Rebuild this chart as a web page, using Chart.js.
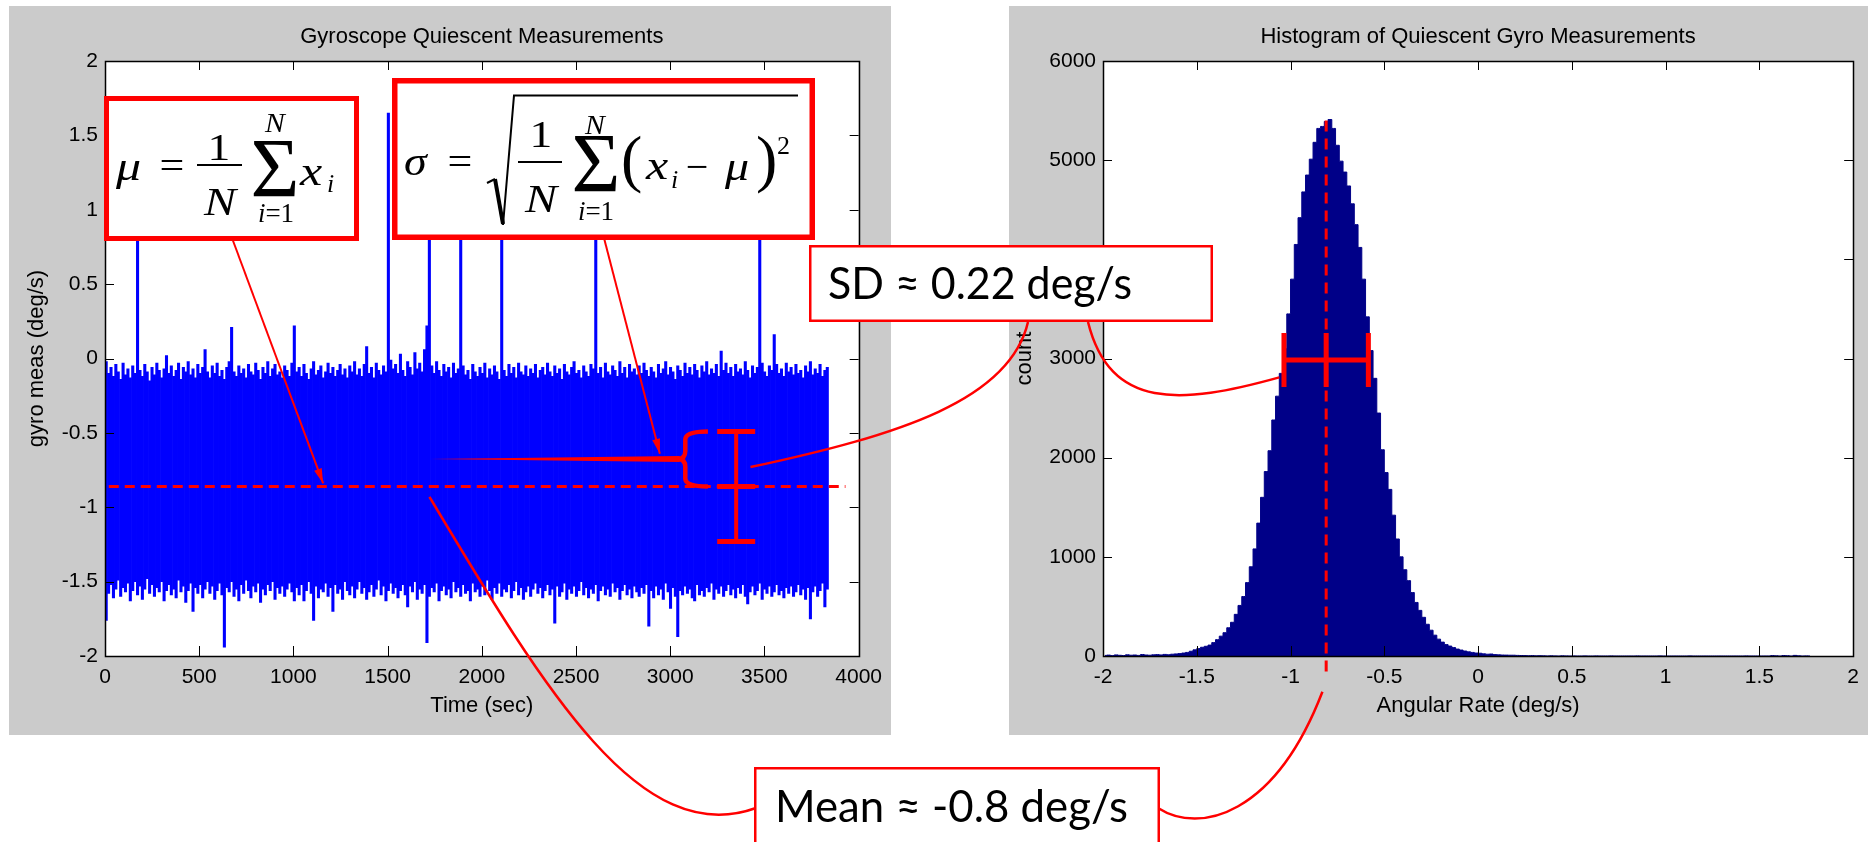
<!DOCTYPE html>
<html>
<head>
<meta charset="utf-8">
<script src="https://cdn.jsdelivr.net/npm/chart.js@4.4.1/dist/chart.umd.min.js"></script>
<style>
  html, body { margin: 0; padding: 0; background: #fff; }
  body { width: 1868px; height: 842px; position: relative; overflow: hidden; }
  #leftBox { position: absolute; left: 9px; top: 6px; width: 882px; height: 729px; }
  #rightBox { position: absolute; left: 1009px; top: 6px; width: 859px; height: 729px; }
  #overlay { position: absolute; left: 0; top: 0; pointer-events: none; }
</style>
</head>
<body>
<div id="leftBox"><canvas id="gyroChart" width="882" height="729"></canvas></div>
<div id="rightBox"><canvas id="histChart" width="859" height="729"></canvas></div>
<canvas id="overlay" width="1868" height="842"></canvas>
<script>

// raw gyro trace, reduced to max / min per 12.8 s bin
const gyroBinSeconds = 12.8;
const gyroHigh = [
  -0.02, -0.10, -0.06, -0.12, -0.04, -0.09, -0.14, -0.03, -0.11, -0.07, -0.13, -0.05, -0.10, 0.90, -0.08, -0.12, -0.04, -0.09, -0.15, -0.06,
  -0.11, -0.03, -0.08, -0.13, -0.07, 0.02, -0.10, -0.05, -0.12, -0.08, -0.03, -0.14, -0.06, -0.09, -0.02, -0.11, -0.07, -0.13, -0.04, -0.10,
  -0.06, 0.06, -0.09, -0.13, -0.05, -0.10, -0.03, -0.12, -0.08, -0.14, -0.06, -0.02, 0.21, -0.09, -0.12, -0.05, -0.10, -0.07, -0.13, -0.04,
  -0.09, -0.11, -0.03, -0.08, -0.14, -0.06, -0.10, -0.02, -0.12, -0.07, -0.04, -0.11, -0.09, -0.13, -0.05, -0.08, -0.12, -0.03, 0.22, -0.09,
  -0.06, -0.12, -0.04, -0.10, -0.14, -0.07, -0.02, -0.11, -0.08, -0.05, -0.13, -0.09, -0.03, -0.10, -0.06, -0.12, -0.08, -0.04, -0.11, -0.07,
  -0.13, -0.05, -0.09, -0.02, -0.11, -0.07, -0.12, -0.04, 0.08, -0.10, -0.06, -0.13, -0.03, -0.08, -0.11, -0.05, -0.09, 1.65, -0.01, -0.07,
  -0.04, -0.10, 0.03, -0.08, -0.12, -0.02, -0.06, -0.11, 0.04, -0.07, -0.03, -0.09, 0.06, 0.22, 0.90, -0.05, -0.10, -0.02, -0.08, -0.12,
  -0.04, -0.09, -0.06, -0.13, -0.03, -0.10, -0.07, 0.90, -0.05, -0.11, -0.08, -0.14, -0.04, -0.09, -0.12, -0.06, -0.10, -0.03, -0.13, -0.07,
  -0.11, -0.05, -0.09, -0.14, 0.90, -0.08, -0.12, -0.04, -0.10, -0.06, -0.13, -0.03, -0.09, -0.11, -0.05, -0.12, -0.07, -0.10, -0.04, -0.13,
  -0.08, -0.06, -0.11, -0.03, -0.09, -0.12, -0.05, -0.10, -0.07, -0.14, -0.04, -0.09, -0.11, -0.06, -0.02, -0.10, -0.08, -0.13, -0.05, -0.09,
  -0.12, -0.04, -0.07, 0.90, -0.10, -0.06, -0.13, -0.03, -0.09, -0.11, -0.05, -0.08, -0.12, -0.02, -0.10, -0.06, -0.13, -0.04, -0.09, -0.07,
  -0.11, -0.05, -0.10, -0.03, -0.08, -0.12, -0.06, -0.09, -0.13, -0.04, -0.10, -0.07, -0.02, -0.11, -0.06, -0.09, -0.14, -0.05, -0.08, -0.12,
  -0.03, -0.10, -0.06, -0.11, -0.04, -0.08, -0.13, -0.05, -0.09, -0.02, -0.11, -0.07, -0.10, -0.04, -0.12, 0.05, -0.08, -0.03, -0.10, -0.06,
  -0.12, -0.04, -0.09, -0.07, -0.11, -0.02, -0.08, -0.13, -0.05, -0.10, -0.06, 0.90, -0.03, -0.09, -0.12, -0.05, -0.08, 0.16, -0.04, -0.10,
  -0.07, -0.12, -0.03, -0.09, -0.06, -0.11, -0.04, -0.10, -0.08, -0.13, -0.05, -0.09, -0.02, -0.11, -0.07, -0.10, -0.04, -0.12, -0.08, -0.06
];
const gyroLow = [
  -1.76, -1.58, -1.52, -1.61, -1.55, -1.49, -1.60, -1.54, -1.57, -1.51, -1.63, -1.56, -1.50, -1.59, -1.53, -1.62, -1.55, -1.48, -1.58, -1.52,
  -1.60, -1.54, -1.57, -1.50, -1.63, -1.56, -1.52, -1.59, -1.55, -1.61, -1.49, -1.57, -1.53, -1.64, -1.56, -1.51, -1.70, -1.54, -1.58, -1.52,
  -1.61, -1.55, -1.50, -1.58, -1.53, -1.62, -1.56, -1.51, -1.59, -1.94, -1.54, -1.57, -1.50, -1.60, -1.55, -1.63, -1.52, -1.58, -1.49, -1.56,
  -1.61, -1.53, -1.57, -1.51, -1.64, -1.55, -1.59, -1.52, -1.56, -1.50, -1.62, -1.54, -1.58, -1.53, -1.60, -1.55, -1.51, -1.57, -1.63, -1.54,
  -1.59, -1.52, -1.63, -1.56, -1.50, -1.58, -1.76, -1.53, -1.61, -1.55, -1.57, -1.51, -1.60, -1.54, -1.70, -1.52, -1.58, -1.55, -1.62, -1.50,
  -1.56, -1.59, -1.53, -1.61, -1.55, -1.50, -1.58, -1.54, -1.62, -1.57, -1.52, -1.60, -1.55, -1.49, -1.59, -1.53, -1.63, -1.56, -1.51, -1.58,
  -1.54, -1.61, -1.56, -1.52, -1.59, -1.67, -1.53, -1.57, -1.50, -1.62, -1.55, -1.58, -1.52, -1.91, -1.60, -1.54, -1.57, -1.51, -1.63, -1.56,
  -1.53, -1.59, -1.55, -1.61, -1.50, -1.57, -1.54, -1.60, -1.52, -1.58, -1.56, -1.63, -1.51, -1.57, -1.55, -1.60, -1.53, -1.59, -1.49, -1.56,
  -1.62, -1.54, -1.58, -1.51, -1.60, -1.55, -1.57, -1.52, -1.61, -1.56, -1.50, -1.59, -1.54, -1.62, -1.57, -1.53, -1.60, -1.55, -1.51, -1.58,
  -1.54, -1.61, -1.56, -1.52, -1.59, -1.55, -1.78, -1.53, -1.60, -1.57, -1.51, -1.62, -1.55, -1.58, -1.53, -1.60, -1.56, -1.50, -1.59, -1.54,
  -1.61, -1.55, -1.58, -1.52, -1.63, -1.56, -1.53, -1.59, -1.55, -1.60, -1.51, -1.57, -1.54, -1.62, -1.56, -1.52, -1.59, -1.55, -1.61, -1.53,
  -1.57, -1.60, -1.54, -1.58, -1.52, -1.80, -1.56, -1.61, -1.53, -1.59, -1.55, -1.62, -1.51, -1.57, -1.68, -1.54, -1.60, -1.87, -1.56, -1.59,
  -1.53, -1.58, -1.55, -1.61, -1.63, -1.52, -1.59, -1.56, -1.60, -1.54, -1.57, -1.51, -1.62, -1.55, -1.58, -1.53, -1.60, -1.56, -1.52, -1.59,
  -1.55, -1.61, -1.54, -1.58, -1.52, -1.60, -1.65, -1.57, -1.53, -1.59, -1.56, -1.51, -1.62, -1.55, -1.58, -1.53, -1.60, -1.57, -1.52, -1.59,
  -1.56, -1.61, -1.54, -1.58, -1.53, -1.60, -1.57, -1.52, -1.59, -1.55, -1.62, -1.54, -1.75, -1.57, -1.53, -1.60, -1.56, -1.51, -1.67, -1.55
];

// histogram, 0.02 deg/s bins, first bin centred on -1.99
const histStart = -1.99;
const histBinWidth = 0.02;
const histCounts = [
  6, 9, 4, 11, 7, 5, 12, 8, 10, 6, 15, 10, 8, 12, 14, 11, 16, 13, 18, 21,
  24, 30, 36, 48, 62, 75, 88, 98, 110, 135, 165, 200, 235, 285, 340, 420, 510, 600, 740, 900,
  1080, 1340, 1600, 1860, 2070, 2380, 2620, 2850, 3100, 3450, 3800, 4150, 4420, 4680, 4850, 5010, 5180, 5320, 5340, 5390,
  5410, 5320, 5150, 4990, 4880, 4740, 4560, 4350, 4120, 3800, 3420, 3080, 2800, 2450, 2080, 1850, 1680, 1420, 1180, 1000,
  870, 760, 640, 540, 460, 390, 320, 260, 210, 170, 140, 115, 100, 85, 70, 60, 50, 42, 36, 30,
  28, 22, 18, 20, 14, 12, 10, 9, 8, 8, 6, 5, 4, 3, 4, 2, 3, 2, 1, 2,
  1, 0, 2, 1, 0, 1, 0, 0, 1, 0, 0, 1, 0, 0, 0, 1, 0, 0, 0, 0,
  0, 0, 1, 0, 0, 0, 0, 0, 1, 0, 0, 0, 0, 0, 0, 0, 1, 0, 0, 0,
  0, 0, 0, 0, 0, 0, 0, 0, 0, 0, 0, 1, 0, 0, 0, 0, 0, 0, 4, 2,
  0, 5, 3, 0, 6, 2, 0, 1, 0
];

const timeTicks = [0, 500, 1000, 1500, 2000, 2500, 3000, 3500, 4000];
const gyroTicks = [-2, -1.5, -1, -0.5, 0, 0.5, 1, 1.5, 2];
const rateTicks = [-2, -1.5, -1, -0.5, 0, 0.5, 1, 1.5, 2];
const countTicks = [0, 1000, 2000, 3000, 4000, 5000, 6000];

// annotation values
const gyroMean = -0.86;
const gyroSpread = [-1.23, -0.49];
const histMean = -0.81;
const histSD = 0.225;
const histBarCount = 2985;

const sans = "'Liberation Sans', Arial, sans-serif";
const serif = "'Liberation Serif', 'Times New Roman', serif";
const RED = '#ff0000';

const panelBg = {
  id: 'panelBg',
  beforeDraw(chart) {
    const {ctx, chartArea: a} = chart;
    ctx.save();
    ctx.fillStyle = '#cbcbcb';
    ctx.fillRect(0, 0, chart.width, chart.height);
    ctx.fillStyle = '#fff';
    ctx.fillRect(a.left, a.top, a.right - a.left, a.bottom - a.top);
    ctx.restore();
  }
};

// matlab style box with inward ticks on all sides
const boxAxes = {
  id: 'boxAxes',
  afterDatasetsDraw(chart) {
    const {ctx, chartArea: a, scales: {x, y}} = chart;
    ctx.save();
    ctx.strokeStyle = '#000';
    ctx.lineWidth = 1;
    ctx.beginPath();
    x.ticks.forEach(t => {
      const px = Math.round(x.getPixelForValue(t.value)) + 0.5;
      ctx.moveTo(px, a.bottom); ctx.lineTo(px, a.bottom - 10);
      ctx.moveTo(px, a.top); ctx.lineTo(px, a.top + 9);
    });
    y.ticks.forEach(t => {
      const py = Math.round(y.getPixelForValue(t.value)) + 0.5;
      ctx.moveTo(a.left, py); ctx.lineTo(a.left + 9, py);
      ctx.moveTo(a.right, py); ctx.lineTo(a.right - 9, py);
    });
    ctx.stroke();
    ctx.lineWidth = 1.5;
    ctx.strokeRect(Math.round(a.left) + 0.5, Math.round(a.top) + 0.5, Math.round(a.right - a.left), Math.round(a.bottom - a.top));
    ctx.restore();
  }
};

const gyroMarks = {
  id: 'gyroMarks',
  afterDraw(chart) {
    const {ctx, scales: {x, y}} = chart;
    const yMean = y.getPixelForValue(gyroMean);
    const yTop = y.getPixelForValue(gyroSpread[1]);
    const yBot = y.getPixelForValue(gyroSpread[0]);
    ctx.save();
    ctx.strokeStyle = RED;
    ctx.fillStyle = RED;
    // mean line
    ctx.lineWidth = 3;
    ctx.setLineDash([10, 6]);
    ctx.beginPath();
    ctx.moveTo(x.getPixelForValue(20), yMean);
    ctx.lineTo(x.getPixelForValue(3930), yMean);
    ctx.stroke();
    ctx.setLineDash([]);
    // brace from mean up to one sigma
    const spine = x.getPixelForValue(3080), tip = x.getPixelForValue(3200), nose = x.getPixelForValue(3040);
    const yMid = (yTop + yMean) / 2, r = 8;
    ctx.lineWidth = 4.5;
    ctx.beginPath();
    ctx.moveTo(tip, yTop);
    ctx.quadraticCurveTo(spine, yTop, spine, yTop + r);
    ctx.lineTo(spine, yMid - r);
    ctx.quadraticCurveTo(spine, yMid, nose, yMid);
    ctx.quadraticCurveTo(spine, yMid, spine, yMid + r);
    ctx.lineTo(spine, yMean - r);
    ctx.quadraticCurveTo(spine, yMean, tip, yMean);
    ctx.stroke();
    // long tapering pointer into the brace
    ctx.beginPath();
    ctx.moveTo(x.getPixelForValue(1726), yMid);
    ctx.lineTo(nose + 2, yMid - 3);
    ctx.lineTo(nose + 2, yMid + 3);
    ctx.closePath();
    ctx.fill();
    // spread bar
    const bx = x.getPixelForValue(3350);
    ctx.lineWidth = 4;
    ctx.beginPath();
    ctx.moveTo(bx, yTop); ctx.lineTo(bx, yBot);
    ctx.stroke();
    ctx.lineWidth = 5;
    ctx.beginPath();
    [yTop, yMean, yBot].forEach(yy => { ctx.moveTo(bx - 19, yy); ctx.lineTo(bx + 19, yy); });
    ctx.stroke();
    ctx.restore();
  }
};

const histMarks = {
  id: 'histMarks',
  afterDraw(chart) {
    const {ctx, chartArea: a, scales: {x, y}} = chart;
    const mx = x.getPixelForValue(histMean);
    ctx.save();
    ctx.strokeStyle = RED;
    ctx.lineWidth = 3;
    ctx.setLineDash([11, 7]);
    ctx.beginPath();
    ctx.moveTo(mx, y.getPixelForValue(5400));
    ctx.lineTo(mx, a.bottom + 16);
    ctx.stroke();
    ctx.setLineDash([]);
    const yy = y.getPixelForValue(histBarCount);
    const x0 = x.getPixelForValue(histMean - histSD), x1 = x.getPixelForValue(histMean + histSD);
    ctx.lineWidth = 5;
    ctx.beginPath();
    ctx.moveTo(x0, yy); ctx.lineTo(x1, yy);
    [x0, mx, x1].forEach(xx => { ctx.moveTo(xx, yy - 27); ctx.lineTo(xx, yy + 27); });
    ctx.stroke();
    ctx.restore();
  }
};

function axisOpts(ticks, title, extra) {
  return Object.assign({
    type: 'linear',
    min: ticks[0],
    max: ticks[ticks.length - 1],
    offset: false,
    grid: { display: false, drawTicks: false },
    border: { display: false },
    afterBuildTicks: s => { s.ticks = ticks.map(v => ({ value: v })); },
    ticks: {
      color: '#000', autoSkip: false, maxRotation: 0, padding: 9,
      font: { family: sans, size: 21 },
      callback: v => String(Math.round(v * 1000) / 1000)
    },
    title: { display: true, text: title, color: '#000', font: { family: sans, size: 22 } }
  }, extra);
}

const gyroPoints = gyroHigh.map((hi, i) => ({ x: (i + 0.5) * gyroBinSeconds, y: [gyroLow[i], hi] }));

const gyroChart = new Chart(document.getElementById('gyroChart'), {
  type: 'bar',
  data: {
    datasets: [{
      data: gyroPoints,
      backgroundColor: '#0000ff',
      borderWidth: 0,
      barPercentage: 1,
      categoryPercentage: 1
    }]
  },
  options: {
    responsive: false,
    animation: false,
    events: [],
    layout: { padding: { left: 0, right: 32, top: 0, bottom: 0 } },
    plugins: {
      legend: { display: false },
      tooltip: { enabled: false },
      title: {
        display: true, fullSize: false, text: 'Gyroscope Quiescent Measurements', color: '#000',
        font: { family: sans, size: 22, weight: 'normal' }, padding: { top: 18, bottom: 10.6 }
      }
    },
    scales: {
      x: axisOpts(timeTicks, 'Time (sec)', { afterFit: s => { s.height = 79; } }),
      y: axisOpts(gyroTicks, 'gyro meas (deg/s)', { afterFit: s => { s.width = 96; } })
    }
  },
  plugins: [panelBg, boxAxes, gyroMarks]
});
gyroChart.options.scales.x.title.padding = { top: 0, bottom: 16 };
gyroChart.options.scales.y.title.padding = { top: 15, bottom: 0 };
gyroChart.options.scales.y.ticks.padding = 7;
gyroChart.update();

const histPoints = histCounts.map((n, i) => ({ x: histStart + i * histBinWidth, y: n }));

const histChart = new Chart(document.getElementById('histChart'), {
  type: 'line',
  data: {
    datasets: [{
      data: histPoints,
      stepped: 'middle',
      fill: 'origin',
      backgroundColor: '#000088',
      borderColor: '#000088',
      borderWidth: 1,
      pointRadius: 0
    }]
  },
  options: {
    responsive: false,
    animation: false,
    events: [],
    layout: { padding: { left: 0, right: 12, top: 0, bottom: 0 } },
    plugins: {
      legend: { display: false },
      tooltip: { enabled: false },
      title: {
        display: true, fullSize: false, text: 'Histogram of Quiescent Gyro Measurements', color: '#000',
        font: { family: sans, size: 22, weight: 'normal' }, padding: { top: 18, bottom: 10.6 }
      }
    },
    scales: {
      x: axisOpts(rateTicks, 'Angular Rate (deg/s)', { afterFit: s => { s.height = 79; } }),
      y: axisOpts(countTicks, 'count', { afterFit: s => { s.width = 94; } })
    }
  },
  plugins: [panelBg, boxAxes, histMarks]
});
histChart.options.scales.x.title.padding = { top: 0, bottom: 16 };
histChart.options.scales.y.title.padding = { top: 3, bottom: 0 };
histChart.options.scales.y.ticks.padding = 7;
histChart.update();

// ---- callouts drawn across both panels ----
const ov = document.getElementById('overlay').getContext('2d');

function pagePoint(chart, xv, yv) {
  const box = chart.canvas.parentNode;
  return [box.offsetLeft + chart.scales.x.getPixelForValue(xv), box.offsetTop + chart.scales.y.getPixelForValue(yv)];
}

function curve(p0, c1, c2, p3) {
  ov.beginPath();
  ov.moveTo(p0[0], p0[1]);
  ov.bezierCurveTo(c1[0], c1[1], c2[0], c2[1], p3[0], p3[1]);
  ov.stroke();
}

function arrow(from, to) {
  ov.beginPath();
  ov.moveTo(from[0], from[1]);
  ov.lineTo(to[0], to[1]);
  ov.stroke();
  const ang = Math.atan2(to[1] - from[1], to[0] - from[0]);
  const len = 15, half = 4;
  ov.beginPath();
  ov.moveTo(to[0], to[1]);
  ov.lineTo(to[0] - len * Math.cos(ang) + half * Math.sin(ang), to[1] - len * Math.sin(ang) - half * Math.cos(ang));
  ov.lineTo(to[0] - len * Math.cos(ang) - half * Math.sin(ang), to[1] - len * Math.sin(ang) + half * Math.cos(ang));
  ov.closePath();
  ov.fill();
}

function box(x0, y0, x1, y1, lw) {
  ov.fillStyle = '#fff';
  ov.fillRect(x0, y0, x1 - x0, y1 - y0);
  ov.lineWidth = lw;
  ov.strokeStyle = RED;
  ov.strokeRect(x0 + lw / 2, y0 + lw / 2, x1 - x0 - lw, y1 - y0 - lw);
}

function fitText(s, x, baseline, width, size) {
  ov.font = size + "px Lato, 'Open Sans', sans-serif";
  ov.textAlign = 'left';
  ov.textBaseline = 'alphabetic';
  const w = ov.measureText(s).width;
  ov.save();
  ov.translate(x, baseline);
  ov.scale(width / w, 1);
  ov.fillText(s, 0, 0);
  ov.restore();
}

// formula glyph; sx widens it a little like the stretched original
function mt(s, x, baseline, size, italic, align, sx) {
  ov.font = (italic ? 'italic ' : '') + size + 'px ' + serif;
  ov.textAlign = align || 'left';
  ov.textBaseline = 'alphabetic';
  ov.save();
  ov.translate(x, baseline);
  ov.scale(sx || 1, 1);
  ov.fillText(s, 0, 0);
  ov.restore();
}

function lowerLimit(cx, baseline, size) {
  ov.font = 'italic ' + size + 'px ' + serif;
  const wi = ov.measureText('i').width;
  ov.font = size + 'px ' + serif;
  const wr = ov.measureText('=1').width;
  const left = cx - (wi + wr) / 2;
  mt('i', left, baseline, size, true);
  mt('=1', left + wi, baseline, size, false);
}

function fracBar(x0, x1, y) {
  ov.lineWidth = 2;
  ov.strokeStyle = '#000';
  ov.beginPath();
  ov.moveTo(x0, y); ov.lineTo(x1, y);
  ov.stroke();
}

// connectors
ov.strokeStyle = RED;
ov.fillStyle = RED;
ov.lineWidth = 2;
arrow([232, 238], pagePoint(gyroChart, 1158, -0.84));
arrow([604, 238], pagePoint(gyroChart, 2945, -0.64));
ov.lineWidth = 2.5;
curve(pagePoint(gyroChart, 1722, -0.93), [545, 690], [640, 850], [756, 808]);
curve([1158, 808], [1200, 835], [1275, 815], pagePoint(histChart, -0.83, -360));
curve(pagePoint(gyroChart, 3426, -0.73), [900, 435], [1010, 400], [1028, 322]);
curve([1088, 322], [1110, 410], [1180, 405], pagePoint(histChart, -1.06, 2810));

// formula boxes
box(104, 96, 359, 241, 5);
box(392, 78, 815, 240, 5.5);
ov.fillStyle = '#000';
mt('\u03bc', 116, 180, 40, true, 'left', 1.25);
mt('=', 172, 179, 40, false, 'center', 1.1);
fracBar(197, 242, 165);
mt('1', 219, 160, 38, false, 'center', 1.2);
mt('N', 220, 215, 40, true, 'center', 1.2);
mt('\u03a3', 275, 197, 84, false, 'center');
mt('N', 275, 132, 27, true, 'center', 1.1);
lowerLimit(276, 222, 27);
mt('x', 300, 185, 40, true, 'left', 1.25);
mt('i', 327, 192, 26, true);

mt('\u03c3', 404, 175, 40, true, 'left', 1.15);
mt('=', 460, 175, 40, false, 'center', 1.1);
ov.strokeStyle = '#000';
ov.lineWidth = 2;
ov.beginPath(); ov.moveTo(487, 183); ov.lineTo(495, 179); ov.stroke();
ov.lineWidth = 4;
ov.beginPath(); ov.moveTo(495, 179); ov.lineTo(503, 224); ov.stroke();
ov.lineWidth = 2;
ov.beginPath(); ov.moveTo(503, 225); ov.lineTo(514, 95.5); ov.lineTo(798, 95.5); ov.stroke();
fracBar(518, 562, 162);
mt('1', 541, 147, 38, false, 'center', 1.2);
mt('N', 541, 212, 40, true, 'center', 1.2);
mt('\u03a3', 596, 192, 84, false, 'center');
mt('N', 595, 134, 27, true, 'center', 1.1);
lowerLimit(596, 220, 27);
mt('(', 621, 180, 64, false);
mt('x', 646, 179, 40, true, 'left', 1.25);
mt('i', 671, 188, 26, true);
mt('\u2212', 697, 180, 40, false, 'center');
mt('\u03bc', 725, 180, 40, true, 'left', 1.2);
mt(')', 756, 180, 64, false);
mt('2', 777, 154, 26, false);

// value callouts
box(809, 245, 1213, 322, 2.5);
box(754, 767, 1160, 848, 2.5);
ov.fillStyle = '#000';
fitText('SD \u2248 0.22 deg/s', 828, 299, 304, 45);
fitText('Mean \u2248 -0.8 deg/s', 775, 822, 353, 45);
</script>
</body>
</html>
